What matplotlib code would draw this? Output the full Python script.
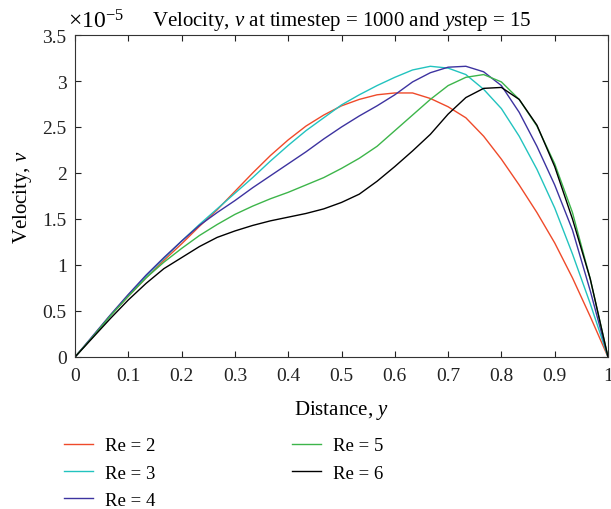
import matplotlib
matplotlib.use("Agg")
import matplotlib.pyplot as plt
import numpy as np
from matplotlib.ticker import FuncFormatter, MultipleLocator

plt.rcParams["font.family"] = ["Liberation Serif", "DejaVu Serif"]
plt.rcParams["mathtext.fontset"] = "custom"
plt.rcParams["mathtext.rm"] = "Liberation Serif"
plt.rcParams["mathtext.it"] = "Liberation Serif:italic"

# distance y, sampled every 1/30
distance = np.linspace(0, 1, 31)

# velocity v (in units of 1e-5)
v_re2 = [0, 0.22, 0.45, 0.66, 0.86, 1.05, 1.23, 1.42, 1.60, 1.80, 2.00, 2.19, 2.36,
         2.51, 2.63, 2.73, 2.80, 2.85, 2.87, 2.87, 2.81, 2.72, 2.60, 2.40, 2.15, 1.87,
         1.57, 1.24, 0.86, 0.44, 0]
v_re3 = [0, 0.22, 0.45, 0.67, 0.88, 1.07, 1.26, 1.44, 1.61, 1.78, 1.95, 2.13, 2.30,
         2.46, 2.60, 2.74, 2.85, 2.95, 3.04, 3.12, 3.16, 3.14, 3.07, 2.91, 2.70, 2.40,
         2.04, 1.62, 1.12, 0.58, 0]
v_re4 = [0, 0.23, 0.46, 0.68, 0.89, 1.08, 1.26, 1.43, 1.57, 1.70, 1.84, 1.97, 2.10,
         2.23, 2.37, 2.50, 2.62, 2.73, 2.85, 2.99, 3.09, 3.15, 3.16, 3.10, 2.95, 2.66,
         2.29, 1.87, 1.38, 0.72, 0]
v_re5 = [0, 0.22, 0.45, 0.66, 0.86, 1.03, 1.18, 1.32, 1.44, 1.55, 1.64, 1.72, 1.79,
         1.87, 1.95, 2.05, 2.16, 2.29, 2.46, 2.63, 2.80, 2.95, 3.04, 3.07, 2.99, 2.80,
         2.51, 2.10, 1.57, 0.85, 0]
v_re6 = [0, 0.21, 0.42, 0.62, 0.80, 0.96, 1.08, 1.20, 1.30, 1.37, 1.43, 1.48, 1.52,
         1.56, 1.61, 1.68, 1.77, 1.91, 2.07, 2.24, 2.42, 2.64, 2.82, 2.92, 2.93, 2.80,
         2.52, 2.07, 1.50, 0.85, 0]

series = [
    ("Re = 2", v_re2, "#ef4a2a"),
    ("Re = 3", v_re3, "#22c3bf"),
    ("Re = 4", v_re4, "#3d33a0"),
    ("Re = 5", v_re5, "#3db54a"),
    ("Re = 6", v_re6, "#000000"),
]

fig = plt.figure(figsize=(6.11, 5.10), dpi=100)
ax = fig.add_axes([75 / 611, 1 - 358 / 510, 533 / 611, 322 / 510])

for label, v, color in series:
    ax.plot(distance, v, color=color, lw=1.0, label=label)

ax.set_xlim(0, 1)
ax.set_ylim(0, 3.5)
ax.xaxis.set_major_locator(MultipleLocator(0.1))
ax.yaxis.set_major_locator(MultipleLocator(0.5))
fmt = FuncFormatter(lambda val, pos: f"{val:g}")
ax.xaxis.set_major_formatter(fmt)
ax.yaxis.set_major_formatter(fmt)
ax.tick_params(direction="in", top=True, right=True, length=4, width=0.8,
               labelsize=14, colors="#222222")
ax.tick_params(axis="x", pad=7)
ax.tick_params(axis="y", pad=6)
for sp in ax.spines.values():
    sp.set_color("#333333")
    sp.set_linewidth(0.8)

ax.set_xlabel("Distance, $\\it{y}$", fontsize=15, labelpad=10)
ax.set_ylabel("Velocity, $\\it{v}$", fontsize=15, labelpad=6)
ax.set_title("Velocity, $\\it{v}$ at timestep = 1000 and $\\it{y}$step = 15",
             fontsize=15, pad=7)
ax.text(-0.013, 1.008, "$\\times10^{-5}$", transform=ax.transAxes,
        fontsize=17, ha="left", va="bottom")

fig.legend(loc="upper left", bbox_to_anchor=(64 / 611, 1 - 438 / 510), ncol=2,
           frameon=False, fontsize=13.5, handlelength=1.55, handletextpad=0.64,
           columnspacing=7.3, labelspacing=0.55, borderpad=0, borderaxespad=0)

fig.savefig("out.png", dpi=100)
